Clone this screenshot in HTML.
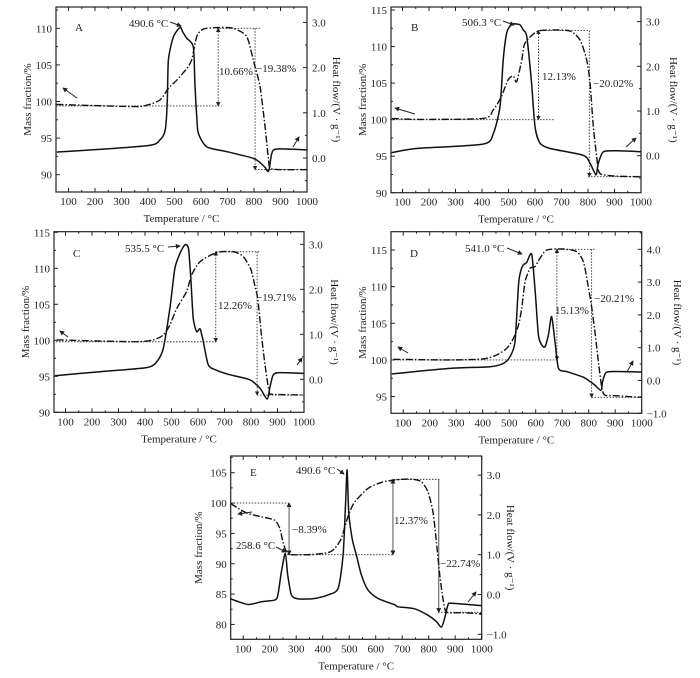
<!DOCTYPE html>
<html><head><meta charset="utf-8">
<style>
html,body{margin:0;padding:0;background:#fff;}
svg{display:block;font-family:"Liberation Serif","DejaVu Serif",serif;}
</style></head>
<body>
<svg id="fig" width="700" height="678" viewBox="0 0 700 678" xmlns="http://www.w3.org/2000/svg">
<defs>
<marker id="ah" viewBox="0 0 6 6" refX="5" refY="3" markerWidth="5" markerHeight="5" orient="auto-start-reverse"><path d="M0,0 L6,3 L0,6 z" fill="#222"/></marker>
</defs>
</svg>
<script>
// ---- Panel A data ----
const massT_A=[55,345,395,445,477,508,546,565,584,609,659,722,772,797,823,842,854,867,974,1000];
const mass_A=[99.6,99.3,99.5,100.2,101.8,102.9,104.5,105.7,108.9,109.9,110.1,110,108.9,105.7,102,96.5,92.4,90.8,90.7,90.7];
const heatT_A=[56,395,445,465,473,477,496,521,531,546,571,577,584,590,621,698,799,839,852,858,867,886,1000];
const heat_A=[0.13,0.27,0.40,0.62,1.28,2.17,2.68,2.89,2.79,2.65,2.46,1.65,0.91,0.55,0.25,0.14,-0.01,-0.19,-0.30,-0.23,0.10,0.20,0.18];
// ---- Panel B data ----
const massT_B=[60,153,404,442,473,498,518,531,550,562,606,657,732,770,795,808,820,833,845,908,1000];
const mass_B=[100.17,100.04,100.17,101.31,103.14,105.42,105.97,105.19,108.16,110.44,112.03,112.26,112.13,110.89,108.16,104.96,99.03,94.93,92.65,92.28,92.19];
const heatT_B=[59,153,404,443,468,480,493,506,518,543,556,569,587,600,619,657,782,808,830,839,858,908,1000];
const heat_B=[0.07,0.16,0.26,0.5,1.1,2.14,2.74,2.9,2.95,2.93,2.81,2.66,1.62,0.65,0.28,0.16,0.01,-0.17,-0.43,-0.17,0.09,0.11,0.09];
// ---- Panel C data ----
const massT_C=[67,356,431,469,494,520,557,576,608,670,733,771,800,815,826,840,855,868,880,1000];
const mass_C=[100.05,99.81,100.05,100.74,102.13,104.44,106.76,109.07,110.93,112.18,112.31,111.62,109.8,107.5,105.6,100.5,96,93,92.5,92.4];
const heatT_C=[60,230,406,444,469,494,513,532,551,564,572,582,595,608,620,639,670,721,796,834,861,872,884,909,1000];
const heat_C=[0.08,0.17,0.26,0.39,0.69,1.58,2.47,2.8,2.99,2.91,2.32,1.36,1.06,1.12,0.84,0.32,0.2,0.1,-0.01,-0.2,-0.44,-0.16,0.1,0.15,0.13];
// ---- Panel D data ----
const massT_D=[63,277,402,453,491,516,535,547,560,579,597,616,642,704,755,780,795,810,825,838,855,893,1000];
const mass_D=[100.09,100,100.14,100.68,101.59,102.95,104.77,107.05,110.68,112.5,112.73,113.86,115,115.14,114.77,113.41,110.68,107.5,103.41,99.32,95.45,95.14,94.91];
const heatT_D=[57,277,428,478,503,522,535,543,553,566,585,598,610,623,635,648,660,673,686,717,780,820,846,852,862,880,1000];
const heat_D=[0.2,0.37,0.42,0.52,0.73,1.18,2.91,3.32,3.52,3.6,3.85,2.71,1.39,1.08,1.03,1.39,1.95,1.18,0.37,0.27,0.1,-0.12,-0.3,-0.05,0.2,0.27,0.26];
// ---- Panel E data ----
const massT_E=[53,82,118,169,219,238,250,263,276,357,420,445,470,489,502,521,571,621,672,735,772,797,816,829,842,854,867,923,1000];
const mass_E=[99.93,99.11,98.28,97.73,97.18,95.8,93.6,91.95,91.51,91.51,91.84,92.5,94.15,96.91,98.56,100.21,102.41,103.4,103.79,103.95,103.51,101.86,98.56,93.6,88.09,84.24,82.04,81.93,81.76];
const heatT_E=[53,118,169,219,231,244,259,268,282,307,370,420,458,477,486,492,498,511,527,546,571,609,672,684,747,797,829,848,860,873,886,1000];
const heat_E=[-0.11,-0.25,-0.18,-0.14,-0.01,0.57,1.03,0.49,-0.01,-0.11,-0.10,-0.01,0.15,0.99,2.25,3.13,2.08,1.41,0.99,0.49,0.11,-0.1,-0.26,-0.31,-0.36,-0.52,-0.68,-0.82,-0.6,-0.26,-0.22,-0.28];
// x tick labels
const xTicks=[100,200,300,400,500,600,700,800,900,1000];

const NS="http://www.w3.org/2000/svg";
const svg=document.getElementById('fig');
function mk(tag,attrs,parent){const e=document.createElementNS(NS,tag);for(const k in attrs)e.setAttribute(k,attrs[k]);(parent||svg).appendChild(e);return e;}
function txt(s,x,y,attrs,parent){const t=mk('text',Object.assign({x:x,y:y,'font-size':11,fill:'#222'},attrs||{}),parent);t.textContent=s;return t;}
function fmt(v){return (v<0?'\u2212':'')+Math.abs(v).toFixed(1);}
function smooth(pts){
  let d='M'+pts[0][0].toFixed(1)+','+pts[0][1].toFixed(1);
  for(let i=0;i<pts.length-1;i++){
    const p0=pts[Math.max(0,i-1)],p1=pts[i],p2=pts[i+1],p3=pts[Math.min(pts.length-1,i+2)];
    const k=0.12;
    const c1=[p1[0]+(p2[0]-p0[0])*k,p1[1]+(p2[1]-p0[1])*k];
    const c2=[p2[0]-(p3[0]-p1[0])*k,p2[1]-(p3[1]-p1[1])*k];
    d+='C'+c1[0].toFixed(1)+','+c1[1].toFixed(1)+' '+c2[0].toFixed(1)+','+c2[1].toFixed(1)+' '+p2[0].toFixed(1)+','+p2[1].toFixed(1);
  }
  return d;
}

const panels=[
 {id:'a',xL:56,xR:307,top:7,bot:192,lv0:110,ly0:28.3,lpu:7.32,lt:[90,95,100,105,110],ry0:158,rpu:45.2,rt:[0,1,2,3],lTitleX:27,rTitleX:337,
  mT:massT_A,m:mass_A,hT:heatT_A,h:heat_A,
  dots:[[[53,99.4],[678,99.4]],[[659,110],[829,110]],[[804,90.7],[1000,90.7]]],
  arrows:[[665,110,665,99.4,true],[804,110,804,90.7,false]],
  labels:[['490.6 °C',129,27],['A',75,31],['10.66%',219,75],['\u221219.38%',256,72]],
  peak:[170,22,181,26],la:[77,98,63,88],ra:[293,147,299,137]},
 {id:'b',xL:391,xR:641,top:7,bot:192.7,lv0:115,ly0:10,lpu:7.31,lt:[90,95,100,105,110,115],ry0:155.7,rpu:44.7,rt:[0,1,2,3],lTitleX:362,rTitleX:674,
  mT:massT_B,m:mass_B,hT:heatT_B,h:heat_B,
  dots:[[[53,100],[672,100]],[[613,112.2],[805,112.2]],[[800,92.2],[1000,92.2]]],
  arrows:[[613,112.2,613,100,true],[805,112.2,805,92.2,false]],
  labels:[['506.3 °C',462,26],['B',411,31],['12.13%',542,80],['\u221220.02%',593,87]],
  peak:[503,21,514,25],la:[415,114,395,108],ra:[626,147,636,138]},
 {id:'c',xL:54,xR:304,top:231.7,bot:412.3,lv0:115,ly0:232.3,lpu:7.2,lt:[90,95,100,105,110,115],ry0:379.3,rpu:45,rt:[0,1,2,3],lTitleX:25,rTitleX:335,
  mT:massT_C,m:mass_C,hT:heatT_C,h:heat_C,
  dots:[[[53,99.8],[670,99.8]],[[667,112.3],[835,112.3]],[[823,92.4],[1000,92.4]]],
  arrows:[[667,112.3,667,99.8,true],[823,112.3,823,92.4,false]],
  labels:[['535.5 °C',125,252],['C',73,257],['12.26%',218,309],['\u221219.71%',256,301]],
  peak:[168,247,180,246],la:[68,337,60,331],ra:[297,365,302,358]},
 {id:'d',xL:391,xR:641.7,top:231.7,bot:413.3,lv0:115,ly0:250,lpu:7.33,lt:[95,100,105,110,115],ry0:380.5,rpu:32.8,rt:[-1,0,1,2,3,4],lTitleX:362,rTitleX:678,
  mT:massT_D,m:mass_D,hT:heatT_D,h:heat_D,
  dots:[[[53,100],[680,100]],[[680,115.1],[822,115.1]],[[811,94.9],[1000,94.9]]],
  arrows:[[680,115.1,680,100,true],[811,115.1,811,94.9,false]],
  labels:[['541.0 °C',465,252],['D',410,257],['15.13%',555,314],['\u221220.21%',594,302]],
  peak:[507,248,522,254],la:[408,353,398,347],ra:[627,372,633,361]},
 {id:'e',xL:230.7,xR:481.7,top:456,bot:639.3,lv0:105,ly0:472.7,lpu:6.07,lt:[80,85,90,95,100,105],ry0:594.5,rpu:39.8,rt:[-1,0,1,2,3],lTitleX:198,rTitleX:511,
  mT:massT_E,m:mass_E,hT:heatT_E,h:heat_E,
  dots:[[[53,100],[273,100]],[[273,91.5],[665,91.5]],[[665,103.9],[842,103.9]],[[835,82],[1000,82]]],
  arrows:[[273,100,273,91.5,true,1],[665,103.9,665,91.5,true,1],[838,103.9,838,82,false,1]],
  labels:[['490.6 °C',296,474],['E',250,476],['258.6 °C',236,549],['\u22128.39%',292,533],['12.37%',394,524],['\u221222.74%',440,567]],
  peak:[337,469,344,474],peak2:[276,547,286,552],la:[252,512,238,514],ra:[468,602,476,592]}
];

panels.forEach(p=>{
  const g=mk('g',{});
  
  
  const X=T=>p.xR-(1000-T)*0.265;
  const YL=v=>p.ly0+(p.lv0-v)*p.lpu;
  const YR=v=>p.ry0-v*p.rpu;
  const fr=mk('rect',{x:p.xL,y:p.top,width:p.xR-p.xL,height:p.bot-p.top,fill:'none',stroke:'#222','stroke-width':1.2},g);
  
  
  for(let T=100;T<=1000;T+=50){
    const x=X(T),len=(T%100===0)?4:2;
    mk('line',{x1:x,x2:x,y1:p.bot,y2:p.bot-len,stroke:'#222','stroke-width':1},g);
    mk('line',{x1:x,x2:x,y1:p.top,y2:p.top+len,stroke:'#222','stroke-width':1},g);
  }
  xTicks.forEach(T=>{
    const t=txt(String(T),X(T),p.bot+13,{'text-anchor':'middle'},g);
    
    
  });
  const xt=txt('Temperature / °C',(p.xL+p.xR)/2,p.bot+30,{'text-anchor':'middle'},g);
  
  
  for(let i=0;i<p.lt.length;i++){
    const v=p.lt[i],y=YL(v);
    mk('line',{x1:p.xL,x2:p.xL+4,y1:y,y2:y,stroke:'#222'},g);
    const ym=YL(v+2.5); if(ym>p.top) mk('line',{x1:p.xL,x2:p.xL+2,y1:ym,y2:ym,stroke:'#222'},g);
    const ym2=YL(v-2.5); if(i===0&&ym2<p.bot) mk('line',{x1:p.xL,x2:p.xL+2,y1:ym2,y2:ym2,stroke:'#222'},g);
    const t=txt(String(v),p.xL-4,y+4,{'text-anchor':'end'},g);
    
    
  }
  for(let i=0;i<p.rt.length;i++){
    const v=p.rt[i],y=YR(v);
    mk('line',{x1:p.xR,x2:p.xR-4,y1:y,y2:y,stroke:'#222'},g);
    const ym=YR(v+0.5); if(ym>p.top) mk('line',{x1:p.xR,x2:p.xR-2,y1:ym,y2:ym,stroke:'#222'},g);
    const ym2=YR(v-0.5); if(i===0&&ym2<p.bot) mk('line',{x1:p.xR,x2:p.xR-2,y1:ym2,y2:ym2,stroke:'#222'},g);
    const t=txt(fmt(v),p.xR+5,y+4,{'text-anchor':'start'},g);
    
    
  }
  const cy=(p.top+p.bot)/2;
  const lt=txt('Mass fraction/%',p.lTitleX+4,cy,{'text-anchor':'middle',transform:'rotate(-90 '+(p.lTitleX+4)+' '+cy+')'},g);
  
  
  const rx=p.rTitleX-4;
  const rt=txt('Heat flow/(V · g\u207B\u00B9)',rx,cy,{'text-anchor':'middle',transform:'rotate(90 '+rx+' '+cy+')'},g);
  
  
  p.dots.forEach(d=>{
    const l=mk('line',{x1:X(d[0][0]),y1:YL(d[0][1]),x2:X(d[1][0]),y2:YL(d[1][1]),stroke:'#333','stroke-width':0.9,'stroke-dasharray':'1.5 1.5'},g);
    
    
  });
  p.arrows.forEach(a=>{
    const at={x1:X(a[0]),y1:YL(a[1]),x2:X(a[2]),y2:YL(a[3]),stroke:a[5]?'#555':'#333','stroke-width':a[5]?1:0.9,'marker-end':'url(#ah)'};
    if(!a[5]) at['stroke-dasharray']='1.5 1.5';
    if(a[4]) at['marker-start']='url(#ah)';
    const l=mk('line',at,g);
    
    
  });
  const mp=p.mT.map((T,i)=>[X(T),YL(p.m[i])]);
  const mc=mk('path',{d:smooth(mp),fill:'none',stroke:'#111','stroke-width':1.4,'stroke-dasharray':'7 2 1.5 2','stroke-linejoin':'round'},g);
  
  
  const hp=p.hT.map((T,i)=>[X(T),YR(p.h[i])]);
  const hc=mk('path',{d:smooth(hp),fill:'none',stroke:'#111','stroke-width':1.5,'stroke-linejoin':'round'},g);
  
  
  p.labels.forEach(l=>{
    const t=txt(l[0],l[1],l[2],{},g);
    
    
  });
  const pk=mk('line',{x1:p.peak[0],y1:p.peak[1],x2:p.peak[2],y2:p.peak[3],stroke:'#222','stroke-width':1,'marker-end':'url(#ah)'},g);
  
  
  if(p.peak2){
    const pk2=mk('line',{x1:p.peak2[0],y1:p.peak2[1],x2:p.peak2[2],y2:p.peak2[3],stroke:'#222','stroke-width':1,'marker-end':'url(#ah)'},g);
    
    
  }
  const la=mk('line',{x1:p.la[0],y1:p.la[1],x2:p.la[2],y2:p.la[3],stroke:'#222','stroke-width':1,'marker-end':'url(#ah)'},g);
  
  
  const ra=mk('line',{x1:p.ra[0],y1:p.ra[1],x2:p.ra[2],y2:p.ra[3],stroke:'#222','stroke-width':1,'marker-end':'url(#ah)'},g);
  
  
});
</script>
</body></html>
